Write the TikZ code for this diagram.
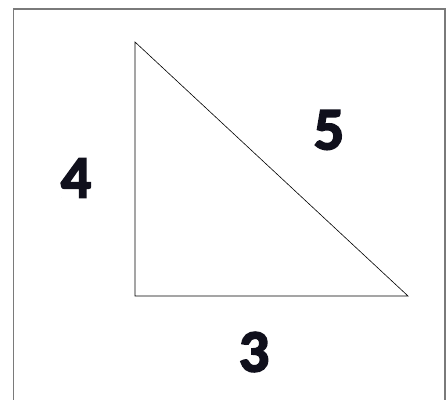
\documentclass[tikz,border=0pt]{standalone}
\usepackage{fontspec}
\setmainfont{Carlito}
\newfontfamily\numfont[BoldFeatures={FakeBold=3}]{Carlito}
\definecolor{numcol}{HTML}{10101C}
\definecolor{framecol}{HTML}{7A7A7A}
\tikzset{
  side/.style={draw=black, line width=0.6pt},
  numlabel/.style={font=\numfont\bfseries\fontsize{60}{60}\selectfont, text=numcol, inner sep=0pt, anchor=center},
  frame/.style={draw=framecol, line width=1.2pt}
}
\begin{document}
\begin{tikzpicture}[x=1pt,y=1pt]
\useasboundingbox (0,0) rectangle (447,399);
\fill[white] (0,0) rectangle (447,399);
\begin{scope}
\clip (0,0) rectangle (447,399);
\draw[frame] (13.5,-10) rectangle (445,390);
\end{scope}
\coordinate (A) at (135,357);
\coordinate (B) at (135,103);
\coordinate (C) at (408,103);
\draw[side] (A) -- (B) -- (C) -- cycle;
\node[numlabel] (four) at (76,221) {4};
\node[numlabel] (five) at (329,269) {5};
\node[numlabel] (three) at (254,47) {3};
\end{tikzpicture}
\end{document}
